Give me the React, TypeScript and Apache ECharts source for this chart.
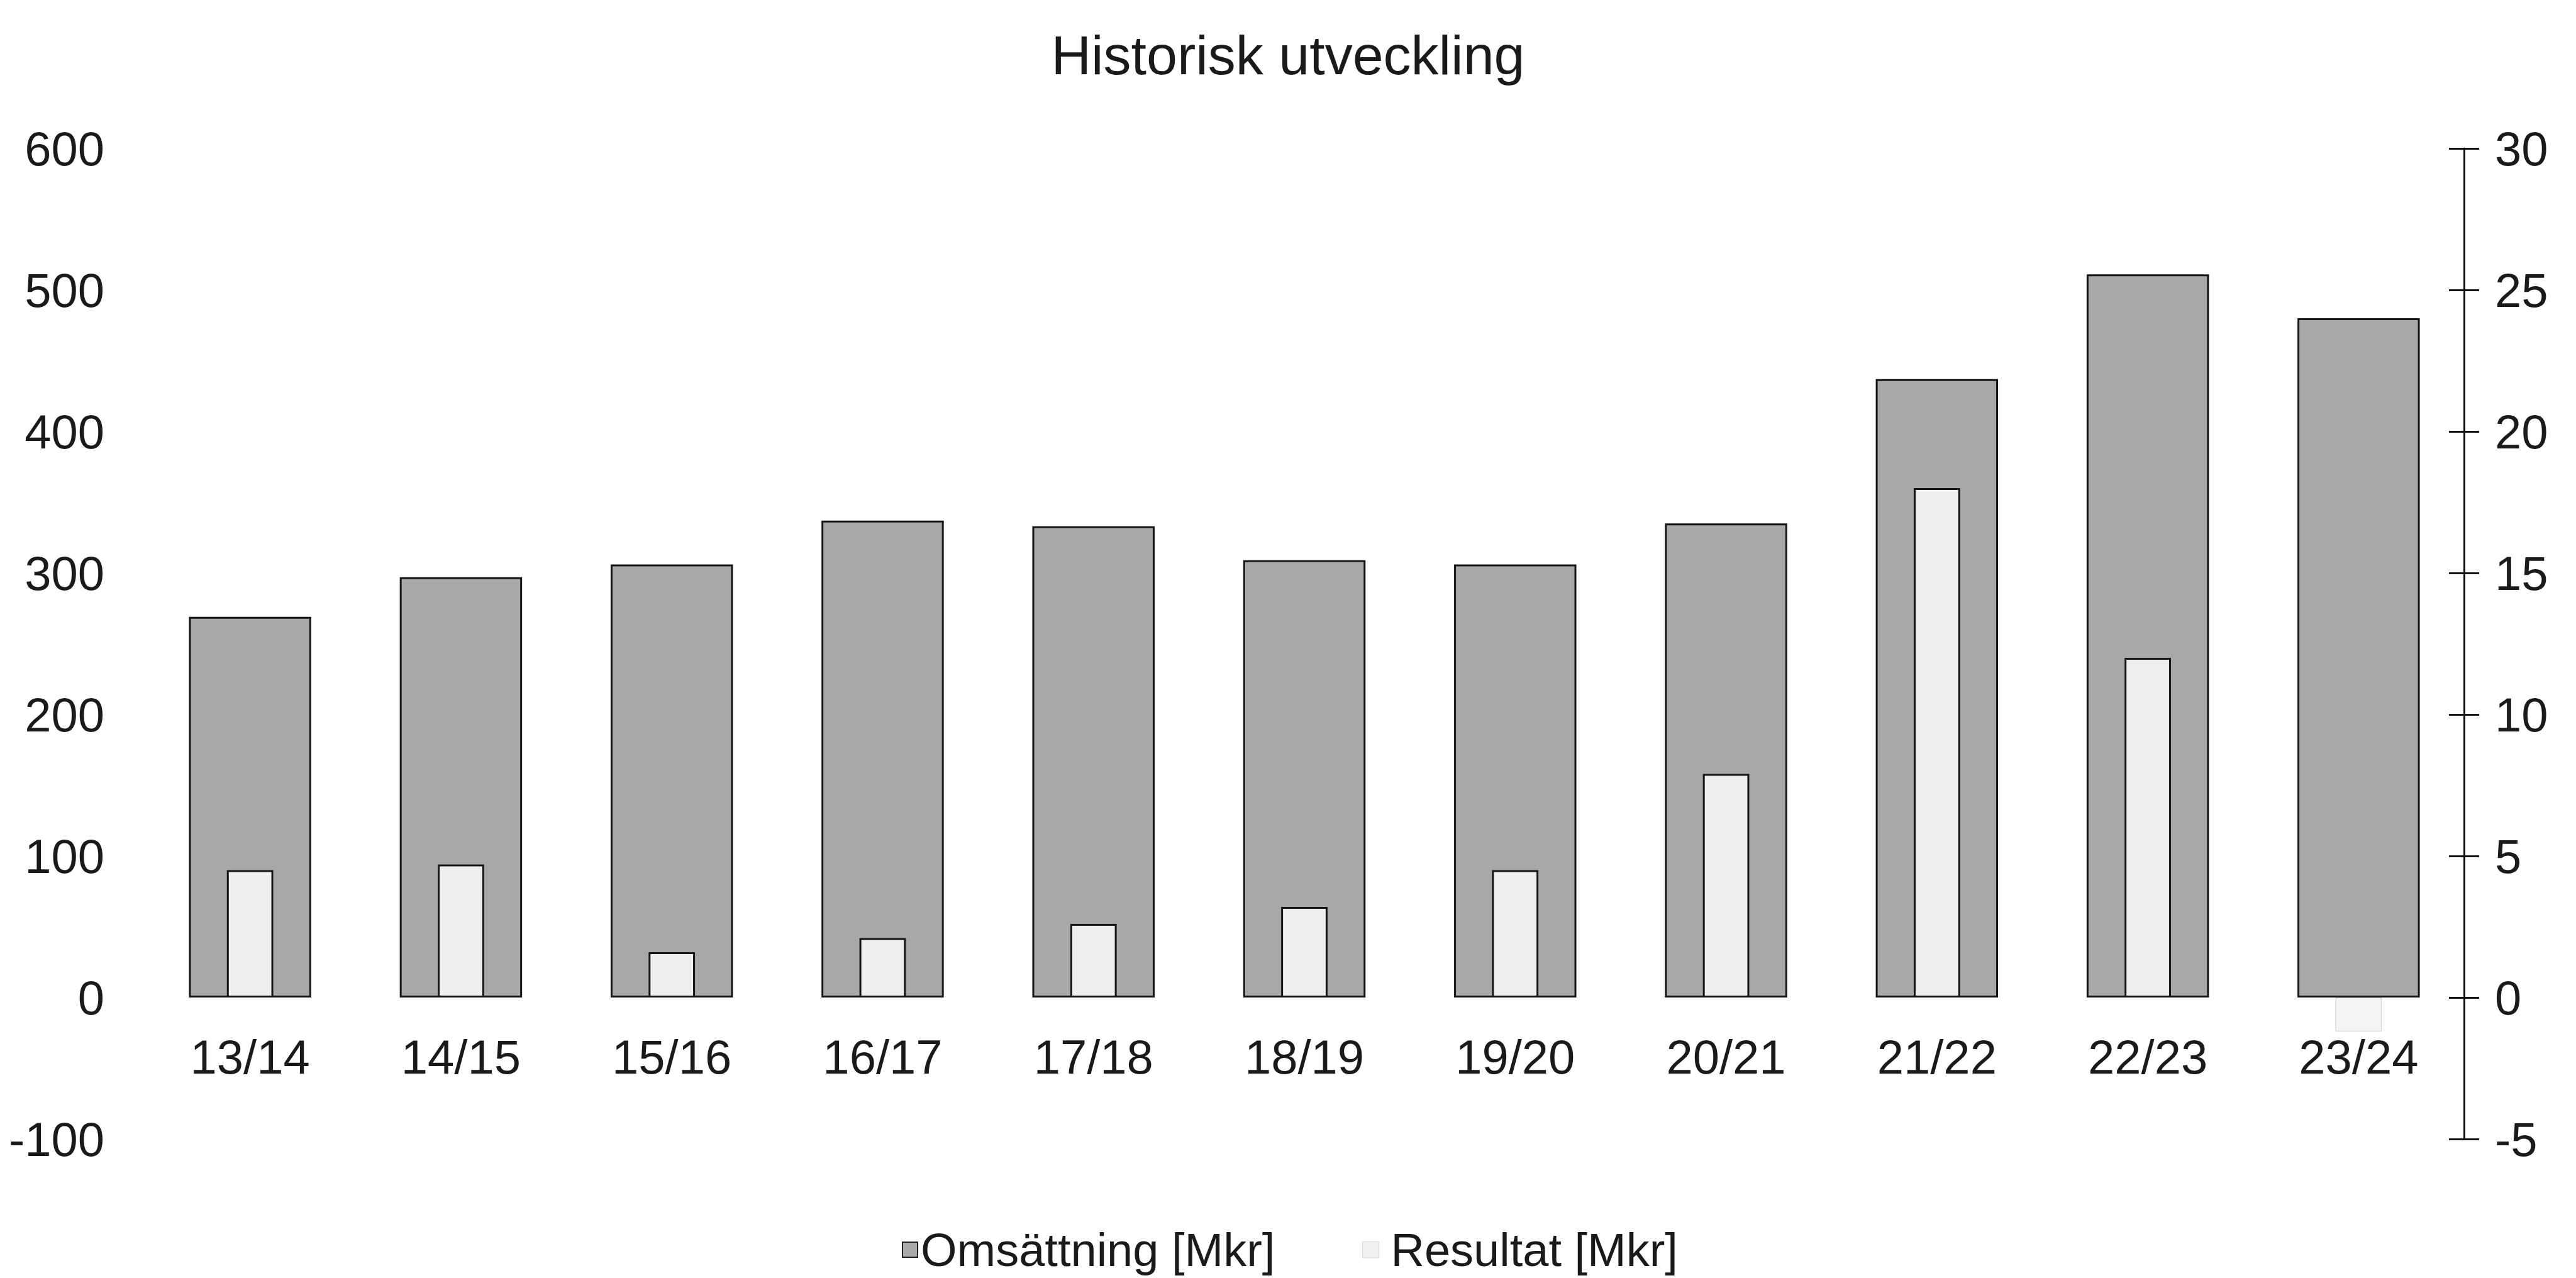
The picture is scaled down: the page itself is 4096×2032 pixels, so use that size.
import React, { useEffect, useRef } from "react";
import * as echarts from "echarts";

const title = "Historisk utveckling";
const categories = ["13/14", "14/15", "15/16", "16/17", "17/18", "18/19", "19/20", "20/21", "21/22", "22/23", "23/24"];
const omsattning = [269, 297, 306, 337, 333, 309, 306, 335, 437, 511, 480];
const resultat = [4.5, 4.7, 1.6, 2.1, 2.6, 3.2, 4.5, 7.9, 18.0, 12.0, -1.2];
const leftTicks = { min: -100, max: 600, interval: 100 };
const rightTicks = { min: -5, max: 30, interval: 5 };
const seriesNames = ["Omsättning [Mkr]", "Resultat [Mkr]"];

const FONT = "'Liberation Sans', Arial, sans-serif";
const TEXT = "#1a1a1a";
const TICK_FONT = 76;

export default function App() {
  const ref = useRef<HTMLDivElement>(null);
  useEffect(() => {
    document.body.style.margin = "0";
    const chart = echarts.init(ref.current!, null, { renderer: "svg" });
    const legendText = { fontFamily: FONT, fontSize: 74, color: TEXT };
    const option: any = {
      animation: false,
      backgroundColor: "#ffffff",
      textStyle: { fontFamily: FONT, color: TEXT },
      title: {
        text: title,
        left: "center",
        top: 38,
        textStyle: { fontFamily: FONT, fontSize: 88, fontWeight: "normal", color: TEXT },
      },
      legend: [
        {
          left: 1434,
          top: 1950,
          padding: 0,
          itemWidth: 24,
          itemHeight: 24,
          textStyle: legendText,
          data: [
            { name: seriesNames[0], icon: "rect", itemStyle: { color: "#a9a9a9", borderColor: "#222", borderWidth: 2 } },
          ],
        },
        {
          left: 2166,
          top: 1950,
          padding: 0,
          itemWidth: 26,
          itemHeight: 26,
          textStyle: { ...legendText, padding: [0, 0, 0, 14] },
          data: [
            { name: seriesNames[1], icon: "rect", itemStyle: { color: "#f0f0f0", borderColor: "#d8d8d8", borderWidth: 1 } },
          ],
        },
      ],
      grid: { left: 230, right: 178, top: 236, bottom: 221, containLabel: false },
      xAxis: [
        {
          type: "category",
          data: categories,
          position: "bottom",
          offset: -225,
          axisLine: { show: false, onZero: false },
          axisTick: { show: false },
          axisLabel: { fontFamily: FONT, fontSize: TICK_FONT, color: TEXT, margin: 56 },
          splitLine: { show: false },
        },
        {
          type: "category",
          data: categories,
          show: false,
          axisLine: { onZero: false },
        },
      ],
      yAxis: [
        {
          type: "value",
          position: "left",
          min: leftTicks.min,
          max: leftTicks.max,
          interval: leftTicks.interval,
          axisLine: { show: false },
          axisTick: { show: false },
          splitLine: { show: false },
          axisLabel: { fontFamily: FONT, fontSize: TICK_FONT, color: TEXT, margin: 64 },
        },
        {
          type: "value",
          position: "right",
          min: rightTicks.min,
          max: rightTicks.max,
          interval: rightTicks.interval,
          axisLine: { show: true, lineStyle: { color: "#111", width: 3 } },
          axisTick: { show: true, inside: false, length: 24, lineStyle: { color: "#111", width: 3 } },
          splitLine: { show: false },
          axisLabel: { fontFamily: FONT, fontSize: TICK_FONT, color: TEXT, margin: 49 },
        },
        {
          type: "value",
          position: "right",
          min: rightTicks.min,
          max: rightTicks.max,
          interval: rightTicks.interval,
          axisLine: { show: false },
          axisTick: { show: true, inside: true, length: 24, lineStyle: { color: "#111", width: 3 } },
          splitLine: { show: false },
          axisLabel: { show: false },
        },
      ],
      series: [
        {
          name: seriesNames[0],
          type: "bar",
          xAxisIndex: 0,
          yAxisIndex: 0,
          barWidth: "58%",
          data: omsattning,
          itemStyle: { color: "#a8a8a8", borderColor: "#151515", borderWidth: 3 },
          z: 2,
        },
        {
          name: seriesNames[1],
          type: "bar",
          xAxisIndex: 1,
          yAxisIndex: 1,
          barWidth: "22%",
          data: resultat.map((v) =>
            v < 0
              ? { value: v, itemStyle: { color: "#f4f4f4", borderColor: "#cccccc", borderWidth: 1 } }
              : v
          ),
          itemStyle: { color: "#efefef", borderColor: "#151515", borderWidth: 3 },
          z: 3,
        },
      ],
    };
    chart.setOption(option);
    return () => chart.dispose();
  }, []);
  return (
    <div
      ref={ref}
      style={{ position: "absolute", left: 0, top: 0, width: "4096px", height: "2032px" }}
    />
  );
}
